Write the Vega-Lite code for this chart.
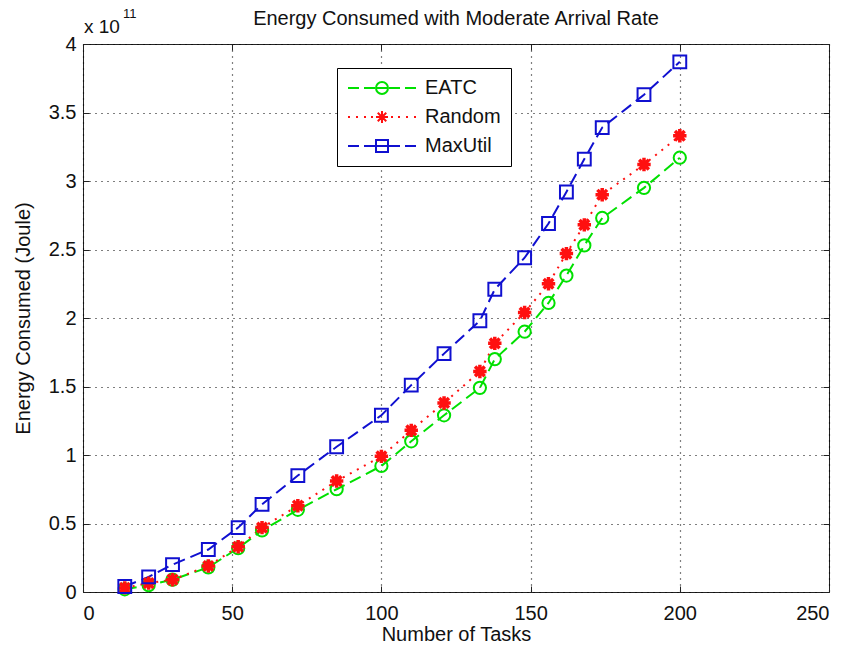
{
  "$schema": "https://vega.github.io/schema/vega-lite/v6.json",
  "width": 746,
  "height": 548,
  "autosize": {"type": "none"},
  "padding": {"left": 83, "top": 44, "right": 21, "bottom": 63},
  "background": "white",
  "title": {
    "text": "Energy Consumed with Moderate Arrival Rate",
    "font": "Liberation Sans",
    "fontSize": 20,
    "fontWeight": "normal",
    "color": "#111",
    "frame": "group",
    "anchor": "middle",
    "baseline": "bottom",
    "offset": -41
  },
  "data": {
    "values": [
      {"series": "EATC", "tasks": 14, "energy": 2.0e9},
      {"series": "EATC", "tasks": 22, "energy": 5.0e9},
      {"series": "EATC", "tasks": 30, "energy": 9.0e9},
      {"series": "EATC", "tasks": 42, "energy": 1.8e10},
      {"series": "EATC", "tasks": 52, "energy": 3.2e10},
      {"series": "EATC", "tasks": 60, "energy": 4.5e10},
      {"series": "EATC", "tasks": 72, "energy": 6.0e10},
      {"series": "EATC", "tasks": 85, "energy": 7.5e10},
      {"series": "EATC", "tasks": 100, "energy": 9.2e10},
      {"series": "EATC", "tasks": 110, "energy": 1.10e11},
      {"series": "EATC", "tasks": 121, "energy": 1.29e11},
      {"series": "EATC", "tasks": 133, "energy": 1.49e11},
      {"series": "EATC", "tasks": 138, "energy": 1.70e11},
      {"series": "EATC", "tasks": 148, "energy": 1.90e11},
      {"series": "EATC", "tasks": 156, "energy": 2.11e11},
      {"series": "EATC", "tasks": 162, "energy": 2.31e11},
      {"series": "EATC", "tasks": 168, "energy": 2.53e11},
      {"series": "EATC", "tasks": 174, "energy": 2.73e11},
      {"series": "EATC", "tasks": 188, "energy": 2.95e11},
      {"series": "EATC", "tasks": 200, "energy": 3.17e11},
      {"series": "Random", "tasks": 14, "energy": 3.0e9},
      {"series": "Random", "tasks": 22, "energy": 6.5e9},
      {"series": "Random", "tasks": 30, "energy": 9.0e9},
      {"series": "Random", "tasks": 42, "energy": 1.9e10},
      {"series": "Random", "tasks": 52, "energy": 3.3e10},
      {"series": "Random", "tasks": 60, "energy": 4.7e10},
      {"series": "Random", "tasks": 72, "energy": 6.3e10},
      {"series": "Random", "tasks": 85, "energy": 8.1e10},
      {"series": "Random", "tasks": 100, "energy": 9.9e10},
      {"series": "Random", "tasks": 110, "energy": 1.18e11},
      {"series": "Random", "tasks": 121, "energy": 1.38e11},
      {"series": "Random", "tasks": 133, "energy": 1.61e11},
      {"series": "Random", "tasks": 138, "energy": 1.815e11},
      {"series": "Random", "tasks": 148, "energy": 2.04e11},
      {"series": "Random", "tasks": 156, "energy": 2.25e11},
      {"series": "Random", "tasks": 162, "energy": 2.47e11},
      {"series": "Random", "tasks": 168, "energy": 2.68e11},
      {"series": "Random", "tasks": 174, "energy": 2.90e11},
      {"series": "Random", "tasks": 188, "energy": 3.12e11},
      {"series": "Random", "tasks": 200, "energy": 3.33e11},
      {"series": "MaxUtil", "tasks": 14, "energy": 4.0e9},
      {"series": "MaxUtil", "tasks": 22, "energy": 1.1e10},
      {"series": "MaxUtil", "tasks": 30, "energy": 2.0e10},
      {"series": "MaxUtil", "tasks": 42, "energy": 3.1e10},
      {"series": "MaxUtil", "tasks": 52, "energy": 4.7e10},
      {"series": "MaxUtil", "tasks": 60, "energy": 6.4e10},
      {"series": "MaxUtil", "tasks": 72, "energy": 8.5e10},
      {"series": "MaxUtil", "tasks": 85, "energy": 1.06e11},
      {"series": "MaxUtil", "tasks": 100, "energy": 1.29e11},
      {"series": "MaxUtil", "tasks": 110, "energy": 1.51e11},
      {"series": "MaxUtil", "tasks": 121, "energy": 1.74e11},
      {"series": "MaxUtil", "tasks": 133, "energy": 1.98e11},
      {"series": "MaxUtil", "tasks": 138, "energy": 2.21e11},
      {"series": "MaxUtil", "tasks": 148, "energy": 2.44e11},
      {"series": "MaxUtil", "tasks": 156, "energy": 2.69e11},
      {"series": "MaxUtil", "tasks": 162, "energy": 2.92e11},
      {"series": "MaxUtil", "tasks": 168, "energy": 3.16e11},
      {"series": "MaxUtil", "tasks": 174, "energy": 3.39e11},
      {"series": "MaxUtil", "tasks": 188, "energy": 3.63e11},
      {"series": "MaxUtil", "tasks": 200, "energy": 3.87e11}
    ]
  },
  "layer": [
    {
      "transform": [{"filter": "datum.series === 'EATC'"}],
      "mark": {"type": "line", "strokeWidth": 2, "color": "#00e000", "strokeDash": [12, 6]},
      "encoding": {
        "x": {
          "field": "tasks", "type": "quantitative",
          "scale": {"domain": [0, 250], "nice": false, "zero": false},
          "axis": {
            "orient": "bottom", "values": [0, 50, 100, 150, 200, 250],
            "title": "Number of Tasks", "grid": true, "gridDash": [1, 5], "gridColor": "#000", "gridWidth": 1.2,
            "tickSize": -6, "domain": false, "labelPadding": 17, "titlePadding": 1
          }
        },
        "y": {
          "field": "energy", "type": "quantitative",
          "scale": {"domain": [0, 4e11], "nice": false, "zero": false},
          "axis": {
            "orient": "left",
            "values": [0, 5e10, 1e11, 1.5e11, 2e11, 2.5e11, 3e11, 3.5e11, 4e11],
            "labelExpr": "format(datum.value / 1e11, '~g')",
            "title": "Energy Consumed (Joule)", "grid": true, "gridDash": [1, 5], "gridColor": "#000", "gridWidth": 1.2,
            "tickSize": -6, "domain": false, "labelPadding": 13, "titlePadding": 15
          }
        }
      }
    },
    {
      "transform": [{"filter": "datum.series === 'Random'"}],
      "mark": {"type": "line", "strokeWidth": 2, "color": "#ff1010", "strokeDash": [2, 6]},
      "encoding": {
        "x": {"field": "tasks", "type": "quantitative", "axis": null},
        "y": {"field": "energy", "type": "quantitative", "axis": null}
      }
    },
    {
      "transform": [{"filter": "datum.series === 'MaxUtil'"}],
      "mark": {"type": "line", "strokeWidth": 2, "color": "#1010d0", "strokeDash": [12, 6]},
      "encoding": {
        "x": {"field": "tasks", "type": "quantitative", "axis": null},
        "y": {"field": "energy", "type": "quantitative", "axis": null}
      }
    },
    {
      "transform": [{"filter": "datum.series === 'EATC'"}],
      "mark": {"type": "point", "shape": "circle", "filled": false, "size": 150, "strokeWidth": 2, "color": "#00e000", "opacity": 1},
      "encoding": {
        "x": {"field": "tasks", "type": "quantitative", "axis": null},
        "y": {"field": "energy", "type": "quantitative", "axis": null}
      }
    },
    {
      "transform": [{"filter": "datum.series === 'Random'"}],
      "mark": {"type": "point", "shape": "M-1,0L1,0M0,-1L0,1M-0.72,-0.72L0.72,0.72M-0.72,0.72L0.72,-0.72", "filled": false, "size": 180, "strokeWidth": 3.5, "color": "#ff1010", "opacity": 1},
      "encoding": {
        "x": {"field": "tasks", "type": "quantitative", "axis": null},
        "y": {"field": "energy", "type": "quantitative", "axis": null}
      }
    },
    {
      "transform": [{"filter": "datum.series === 'MaxUtil'"}],
      "mark": {"type": "point", "shape": "square", "filled": false, "size": 165, "strokeWidth": 2, "color": "#1010d0", "opacity": 1},
      "encoding": {
        "x": {"field": "tasks", "type": "quantitative", "axis": null},
        "y": {"field": "energy", "type": "quantitative", "axis": null}
      }
    },
    {
      "mark": {"type": "point", "filled": false, "size": 100, "strokeWidth": 2, "opacity": 0},
      "encoding": {
        "x": {
          "field": "tasks", "type": "quantitative",
          "axis": {"orient": "top", "values": [0, 50, 100, 150, 200, 250], "labels": false, "title": null, "grid": false, "domain": false, "tickSize": -6}
        },
        "y": {
          "field": "energy", "type": "quantitative",
          "axis": {"orient": "right", "values": [0, 5e10, 1e11, 1.5e11, 2e11, 2.5e11, 3e11, 3.5e11, 4e11], "labels": false, "title": null, "grid": false, "domain": false, "tickSize": -6}
        },
        "color": {
          "field": "series", "type": "nominal",
          "scale": {"domain": ["EATC", "Random", "MaxUtil"], "range": ["#00e000", "#ff1010", "#1010d0"]},
          "legend": {
            "title": null, "orient": "none", "legendX": 254, "legendY": 24,
            "padding": 10, "strokeColor": "#000", "fillColor": "#fff", "cornerRadius": 0,
            "symbolSize": 100, "symbolStrokeWidth": 2, "symbolOffset": 25, "symbolOpacity": 1,
            "labelOffset": 33, "labelFontSize": 20, "labelFont": "Liberation Sans", "labelColor": "#111", "rowPadding": 9
          }
        },
        "shape": {
          "field": "series", "type": "nominal",
          "scale": {
            "domain": ["EATC", "Random", "MaxUtil"],
            "range": [
              "M-6.8,0L-4.6,0M-3.6,0L-1.4,0M-1.2,0L1.2,0M1.4,0L3.6,0M4.6,0L6.8,0M-1.2,0A1.2,1.2,0,1,1,1.2,0A1.2,1.2,0,1,1,-1.2,0Z",
              "M-6.8,0L-6.4,0M-5.2,0L-4.8,0M-3.6,0L-3.2,0M-2.2,0L-1.8,0M1.8,0L2.2,0M3.2,0L3.6,0M4.8,0L5.2,0M6.4,0L6.8,0M-1.2,0L1.2,0M0,-1.2L0,1.2M-0.85,-0.85L0.85,0.85M-0.85,0.85L0.85,-0.85",
              "M-6.8,0L-4.6,0M-3.6,0L-1.4,0M-1.2,0L1.2,0M1.4,0L3.6,0M4.6,0L6.8,0M-1.2,-1.2L1.2,-1.2L1.2,1.2L-1.2,1.2Z"
            ]
          },
          "legend": {
            "title": null, "orient": "none", "legendX": 254, "legendY": 24,
            "padding": 10, "strokeColor": "#000", "fillColor": "#fff", "cornerRadius": 0,
            "symbolSize": 100, "symbolStrokeWidth": 2, "symbolOffset": 25, "symbolOpacity": 1,
            "labelOffset": 33, "labelFontSize": 20, "labelFont": "Liberation Sans", "labelColor": "#111", "rowPadding": 9
          }
        }
      }
    },
    {
      "data": {"values": [{"label": "x 10"}]},
      "mark": {"type": "text", "align": "left", "baseline": "alphabetic", "dx": 1, "dy": -11, "fontSize": 19, "font": "Liberation Sans", "color": "#111"},
      "encoding": {
        "x": {"datum": 0, "type": "quantitative", "axis": null},
        "y": {"datum": 4e11, "type": "quantitative", "axis": null},
        "text": {"field": "label"}
      }
    },
    {
      "data": {"values": [{"label": "11"}]},
      "mark": {"type": "text", "align": "left", "baseline": "alphabetic", "dx": 40, "dy": -26, "fontSize": 13, "font": "Liberation Sans", "color": "#111"},
      "encoding": {
        "x": {"datum": 0, "type": "quantitative", "axis": null},
        "y": {"datum": 4e11, "type": "quantitative", "axis": null},
        "text": {"field": "label"}
      }
    }
  ],
  "resolve": {"axis": {"x": "independent", "y": "independent"}},
  "config": {
    "font": "Liberation Sans",
    "view": {"stroke": "#222", "strokeWidth": 1},
    "axis": {
      "labelFont": "Liberation Sans", "titleFont": "Liberation Sans",
      "labelColor": "#111", "titleColor": "#111",
      "labelFontSize": 20, "titleFontSize": 20, "titleFontWeight": "normal",
      "tickColor": "#222", "tickWidth": 1
    }
  }
}
